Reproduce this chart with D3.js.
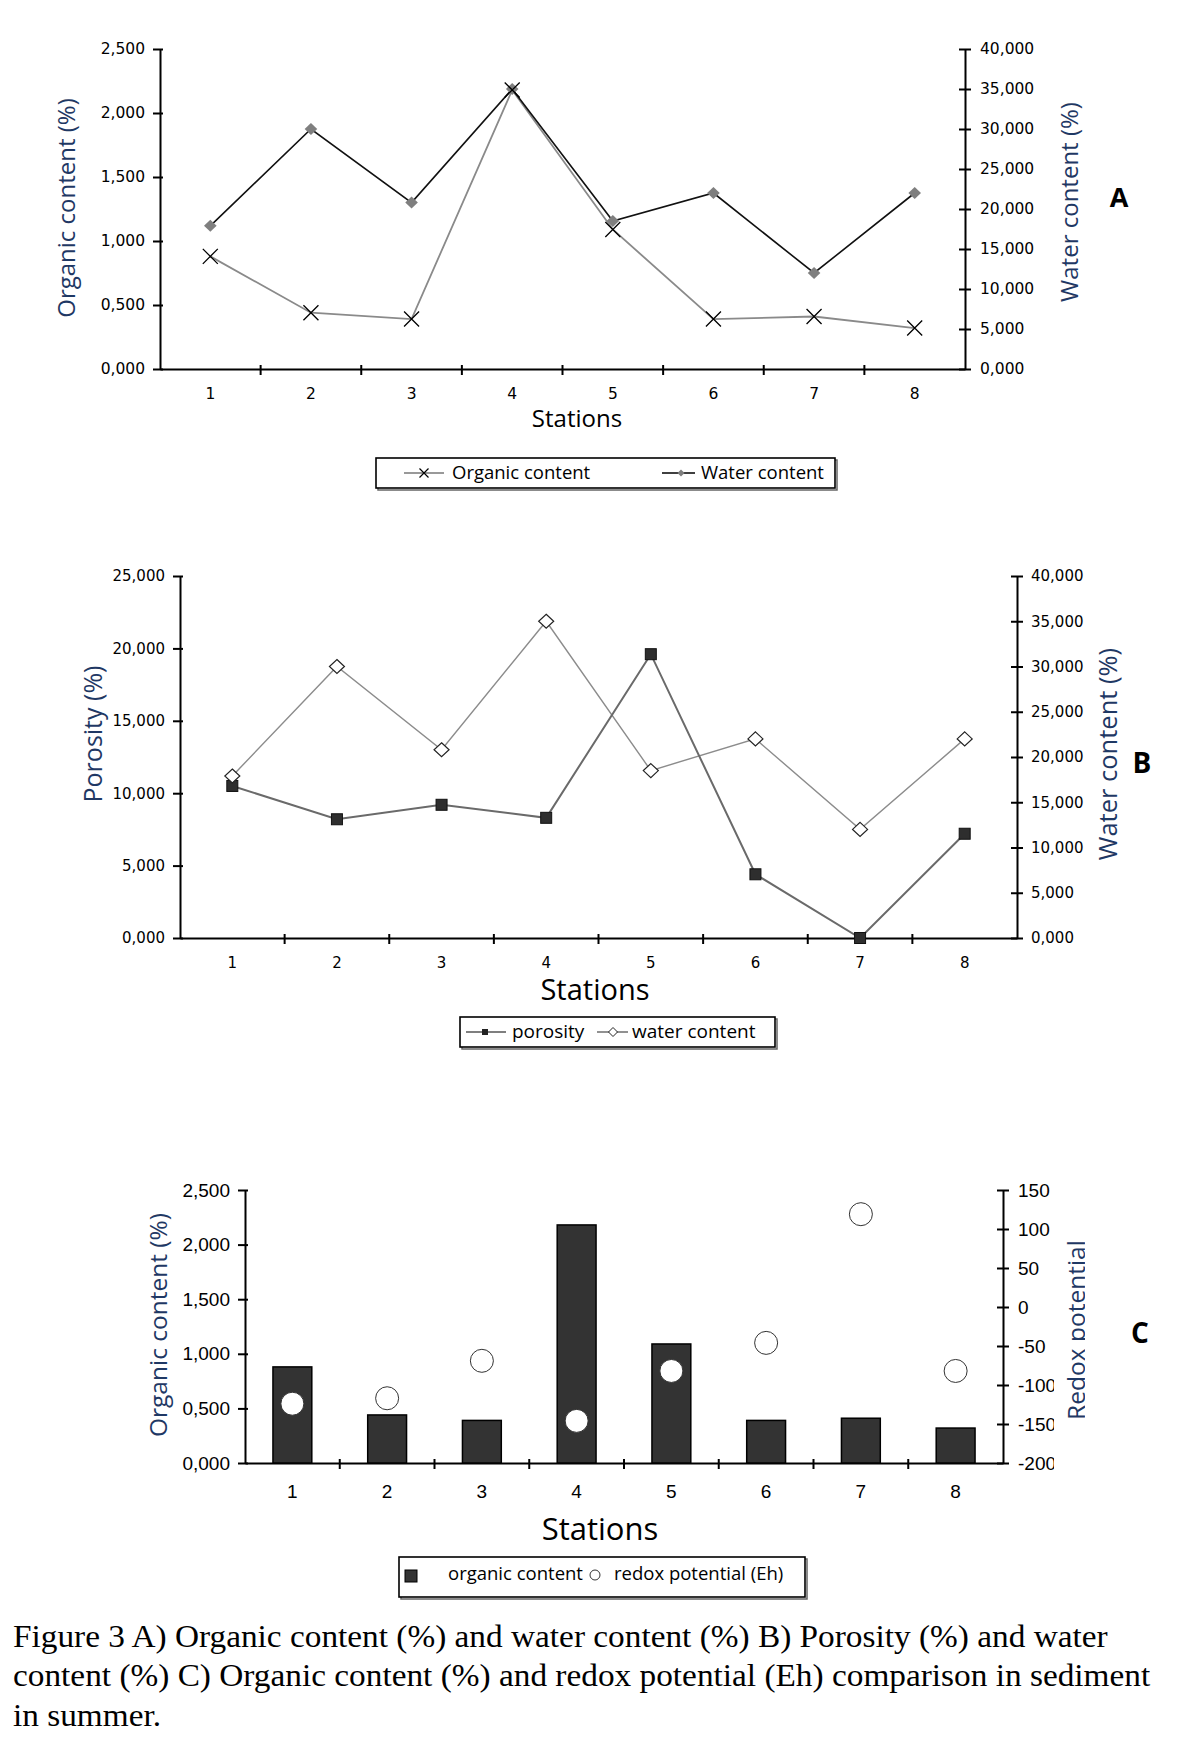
<!DOCTYPE html>
<html>
<head>
<meta charset="utf-8">
<script src="https://cdn.jsdelivr.net/npm/d3@7"></script>
<style>
  body { margin: 0; background: #fff; }
  svg { display: block; }
  .ttl { font-family: "Open Sans", sans-serif; fill: #1f3864; }
  .lbl { font-family: "Open Sans", sans-serif; fill: #000; }
  .leg { font-family: "Open Sans", sans-serif; fill: #000; }
</style>
</head>
<body>
<svg id="fig" width="1181" height="1740"></svg>
<script>
// values
const stations = ['1', '2', '3', '4', '5', '6', '7', '8'];
const organicContent = [0.88, 0.44, 0.39, 2.18, 1.09, 0.39, 0.41, 0.32];
const waterContent = [17.9, 30.0, 20.8, 35.0, 18.5, 22.0, 12.0, 22.0];
const porosity = [10.5, 8.2, 9.2, 8.3, 19.6, 4.4, 0.0, 7.2];
const redoxPotential = [-124, -117, -69, -146, -82, -46, 119, -82];

// tick labels
const organicTicks = [0, 0.5, 1, 1.5, 2, 2.5];
const waterTicks = [0, 5, 10, 15, 20, 25, 30, 35, 40];
const porosityTicks = [0, 5, 10, 15, 20, 25];
const redoxTicks = [-200, -150, -100, -50, 0, 50, 100, 150];

const caption = [
  'Figure 3 A) Organic content (%) and water content (%) B) Porosity (%) and water',
  'content (%) C) Organic content (%) and redox potential (Eh) comparison in sediment',
  'in summer.'
];

const svg = d3.select('#fig');
const loc = d3.formatLocale({decimal: ',', thousands: '.', grouping: [3], currency: ['', ''], minus: '-'});
const f3 = loc.format('.3f');
const fInt = loc.format('d');

// axes frame shared by the three panels
function frame(o) {
  const x = d3.scaleBand().domain(stations).range([o.left, o.right]);
  const yL = d3.scaleLinear().domain(d3.extent(o.leftTicks)).range([o.bottom, o.top]);
  const yR = d3.scaleLinear().domain(d3.extent(o.rightTicks)).range([o.bottom, o.top]);
  const g = svg.append('g');

  const gl = g.append('g').attr('transform', `translate(${o.left},0)`)
    .call(d3.axisLeft(yL).tickValues(o.leftTicks).tickFormat(o.fmtL).tickSize(7).tickPadding(8).tickSizeOuter(0));
  gl.selectAll('.tick line').attr('x1', 3);

  // wrapper so a clip can be set in page coordinates
  const wr = g.append('g');
  const gr = wr.append('g').attr('transform', `translate(${o.right},0)`)
    .call(d3.axisRight(yR).tickValues(o.rightTicks).tickFormat(o.fmtR).tickSize(6).tickPadding(o.rPad).tickSizeOuter(0));
  gr.selectAll('.tick line').attr('x1', -6);

  const gx = g.append('g').attr('transform', `translate(0,${o.bottom})`)
    .call(d3.axisBottom(x).tickSize(0).tickSizeOuter(0).tickPadding(o.xPad));

  [gl, gr, gx].forEach(a => {
    a.attr('font-family', o.tickFamily).attr('font-size', o.tickFont);
    a.selectAll('path, line').attr('stroke', '#000').attr('stroke-width', 2);
    a.selectAll('text').attr('fill', '#000');
  });

  // category boundary ticks
  g.append('g').selectAll('line').data(stations.slice(1)).join('line')
    .attr('x1', d => x(d)).attr('x2', d => x(d))
    .attr('y1', o.bottom - 4).attr('y2', o.bottom + 6)
    .attr('stroke', '#000').attr('stroke-width', 2);

  return {x, yL, yR, g, wr};
}

function vtitle(text, cx, cy, size, parent) {
  return (parent || svg).append('text').attr('class', 'ttl')
    .attr('transform', `translate(${cx},${cy}) rotate(-90)`)
    .attr('text-anchor', 'middle').attr('dominant-baseline', 'central')
    .attr('font-size', size).text(text);
}

function label(text, cx, y, size, weight) {
  svg.append('text').attr('class', 'lbl').attr('x', cx).attr('y', y)
    .attr('text-anchor', 'middle').attr('font-size', size)
    .attr('font-weight', weight || 'normal').text(text);
}

function legendBox(x0, y0, x1, y1) {
  svg.append('rect').attr('x', x0 + 2).attr('y', y0 + 2).attr('width', x1 - x0).attr('height', y1 - y0)
    .attr('fill', 'none').attr('stroke', '#666').attr('stroke-width', 1.5);
  svg.append('rect').attr('x', x0).attr('y', y0).attr('width', x1 - x0).attr('height', y1 - y0)
    .attr('fill', '#fff').attr('stroke', '#000').attr('stroke-width', 1.6);
}

function clipX(id, w) {
  svg.append('clipPath').attr('id', id).append('rect')
    .attr('x', 0).attr('y', 0).attr('width', w).attr('height', 1740);
  return `url(#${id})`;
}

const cross = h => `M${-h},${-h}L${h},${h}M${-h},${h}L${h},${-h}`;
const diamond = (w, h) => `M0,${-h}L${w},0L0,${h}L${-w},0Z`;
const sansTicks = '"DejaVu Sans", Verdana, sans-serif';

// ---------- A ----------
const A = frame({left: 160, right: 965, top: 49, bottom: 369,
  leftTicks: organicTicks, rightTicks: waterTicks, fmtL: f3, fmtR: f3,
  tickFamily: sansTicks, tickFont: 15.5, xPad: 19, rPad: 9});
const cxA = (d, i) => A.x(stations[i]) + A.x.bandwidth() / 2;

A.g.append('path').datum(organicContent)
  .attr('d', d3.line().x(cxA).y(d => A.yL(d)))
  .attr('fill', 'none').attr('stroke', '#8a8a8a').attr('stroke-width', 1.8);
A.g.append('path').datum(waterContent)
  .attr('d', d3.line().x(cxA).y(d => A.yR(d)))
  .attr('fill', 'none').attr('stroke', '#111').attr('stroke-width', 1.6);
A.g.selectAll('.wmark').data(waterContent).join('path').attr('class', 'wmark')
  .attr('transform', (d, i) => `translate(${cxA(d, i)},${A.yR(d)})`)
  .attr('d', diamond(6.3, 6)).attr('fill', '#7f7f7f');
A.g.selectAll('.omark').data(organicContent).join('path').attr('class', 'omark')
  .attr('transform', (d, i) => `translate(${cxA(d, i)},${A.yL(d)})`)
  .attr('d', cross(7.5)).attr('fill', 'none').attr('stroke', '#000').attr('stroke-width', 1.3);

vtitle('Organic content (%)', 65, 208, 24);
vtitle('Water content (%)', 1068, 202, 24);
label('Stations', 577, 427, 24);
label('A', 1119, 207, 27, 'bold');

legendBox(376, 458, 835, 488);
svg.append('path').attr('d', 'M404,473H444').attr('stroke', '#777').attr('stroke-width', 1.5);
svg.append('path').attr('d', cross(4.5)).attr('transform', 'translate(424,473)')
  .attr('stroke', '#000').attr('stroke-width', 1.2).attr('fill', 'none');
svg.append('text').attr('class', 'leg').attr('x', 452).attr('y', 479).attr('font-size', 18.5).text('Organic content');
svg.append('path').attr('d', 'M662,473H695').attr('stroke', '#000').attr('stroke-width', 1.5);
svg.append('path').attr('d', diamond(3.5, 3.5)).attr('transform', 'translate(681,473)').attr('fill', '#7f7f7f');
svg.append('text').attr('class', 'leg').attr('x', 701).attr('y', 479).attr('font-size', 18.5).text('Water content');

// ---------- B ----------
const B = frame({left: 180, right: 1017, top: 576, bottom: 938,
  leftTicks: porosityTicks, rightTicks: waterTicks, fmtL: f3, fmtR: f3,
  tickFamily: sansTicks, tickFont: 15, xPad: 19, rPad: 8});
const cxB = (d, i) => B.x(stations[i]) + B.x.bandwidth() / 2;

B.g.append('path').datum(waterContent)
  .attr('d', d3.line().x(cxB).y(d => B.yR(d)))
  .attr('fill', 'none').attr('stroke', '#8c8c8c').attr('stroke-width', 1.4);
B.g.append('path').datum(porosity)
  .attr('d', d3.line().x(cxB).y(d => B.yL(d)))
  .attr('fill', 'none').attr('stroke', '#6a6a6a').attr('stroke-width', 2);
B.g.selectAll('.pmark').data(porosity).join('rect').attr('class', 'pmark')
  .attr('x', (d, i) => cxB(d, i) - 5.5).attr('y', d => B.yL(d) - 5.5)
  .attr('width', 11).attr('height', 11)
  .attr('fill', '#2e2e2e').attr('stroke', '#111').attr('stroke-width', 1);
B.g.selectAll('.wmark').data(waterContent).join('path').attr('class', 'wmark')
  .attr('transform', (d, i) => `translate(${cxB(d, i)},${B.yR(d)})`)
  .attr('d', diamond(7.5, 7)).attr('fill', '#fff').attr('stroke', '#222').attr('stroke-width', 1.2);

vtitle('Porosity (%)', 92, 734, 25);
vtitle('Water content (%)', 1107, 754, 25.5);
label('Stations', 595, 1000, 29);
label('B', 1142, 773, 28, 'bold');

legendBox(460, 1017, 775, 1047);
svg.append('path').attr('d', 'M466,1032H506').attr('stroke', '#555').attr('stroke-width', 1.5);
svg.append('rect').attr('x', 482).attr('y', 1029).attr('width', 6).attr('height', 6).attr('fill', '#222');
svg.append('text').attr('class', 'leg').attr('x', 512).attr('y', 1038).attr('font-size', 19).text('porosity');
svg.append('path').attr('d', 'M597,1032H628').attr('stroke', '#555').attr('stroke-width', 1.3);
svg.append('path').attr('d', diamond(4.5, 4.5)).attr('transform', 'translate(613,1032)')
  .attr('fill', '#fff').attr('stroke', '#222').attr('stroke-width', 1);
svg.append('text').attr('class', 'leg').attr('x', 632).attr('y', 1038).attr('font-size', 19).text('water content');

// ---------- C ----------
const C = frame({left: 245, right: 1003, top: 1190, bottom: 1463,
  leftTicks: organicTicks, rightTicks: redoxTicks, fmtL: f3, fmtR: fInt,
  tickFamily: '"Liberation Sans", Arial, sans-serif', tickFont: 19, xPad: 22, rPad: 9});
// right labels are cut off in the original figure
C.wr.attr('clip-path', clipX('clipR', 1054));

const xBar = d3.scaleBand().domain(stations).range([245, 1003]).paddingInner(0.59).paddingOuter(0.295);
C.g.selectAll('.bar').data(organicContent).join('rect').attr('class', 'bar')
  .attr('x', (d, i) => xBar(stations[i])).attr('width', xBar.bandwidth())
  .attr('y', d => C.yL(d)).attr('height', d => C.yL(0) - C.yL(d))
  .attr('fill', '#333').attr('stroke', '#000').attr('stroke-width', 1.5);
C.g.selectAll('.redox').data(redoxPotential).join('circle').attr('class', 'redox')
  .attr('cx', (d, i) => C.x(stations[i]) + C.x.bandwidth() / 2).attr('cy', d => C.yR(d))
  .attr('r', 11.5).attr('fill', '#fff').attr('stroke', '#333').attr('stroke-width', 1);

vtitle('Organic content (%)', 157, 1325, 24.5);
const redoxTitle = svg.append('g').attr('clip-path', clipX('clipT', 1085));
vtitle('Redox potential', 1075, 1330, 24.5, redoxTitle);
label('Stations', 600, 1540, 31);
label('C', 1140, 1343, 28, 'bold');

legendBox(399, 1557, 805, 1597);
svg.append('rect').attr('x', 405).attr('y', 1570).attr('width', 12).attr('height', 12)
  .attr('fill', '#333').attr('stroke', '#000').attr('stroke-width', 1);
svg.append('text').attr('class', 'leg').attr('x', 448).attr('y', 1580).attr('font-size', 18.5).text('organic content');
svg.append('circle').attr('cx', 595).attr('cy', 1575).attr('r', 5)
  .attr('fill', '#fff').attr('stroke', '#333').attr('stroke-width', 1);
svg.append('text').attr('class', 'leg').attr('x', 614).attr('y', 1580).attr('font-size', 18.5).text('redox potential (Eh)');

// ---------- caption ----------
const cap = svg.append('g').attr('font-family', '"Liberation Serif", "Times New Roman", serif')
  .attr('font-size', 31).attr('fill', '#000');
const capLines = cap.selectAll('text').data(caption).join('text')
  .attr('x', 0).attr('y', (d, i) => 1647 + i * 39.5).text(d => d);
const natural = capLines.nodes()[0].getComputedTextLength();
cap.attr('transform', `translate(13,0) scale(${1095 / natural},1)`);
</script>
</body>
</html>
